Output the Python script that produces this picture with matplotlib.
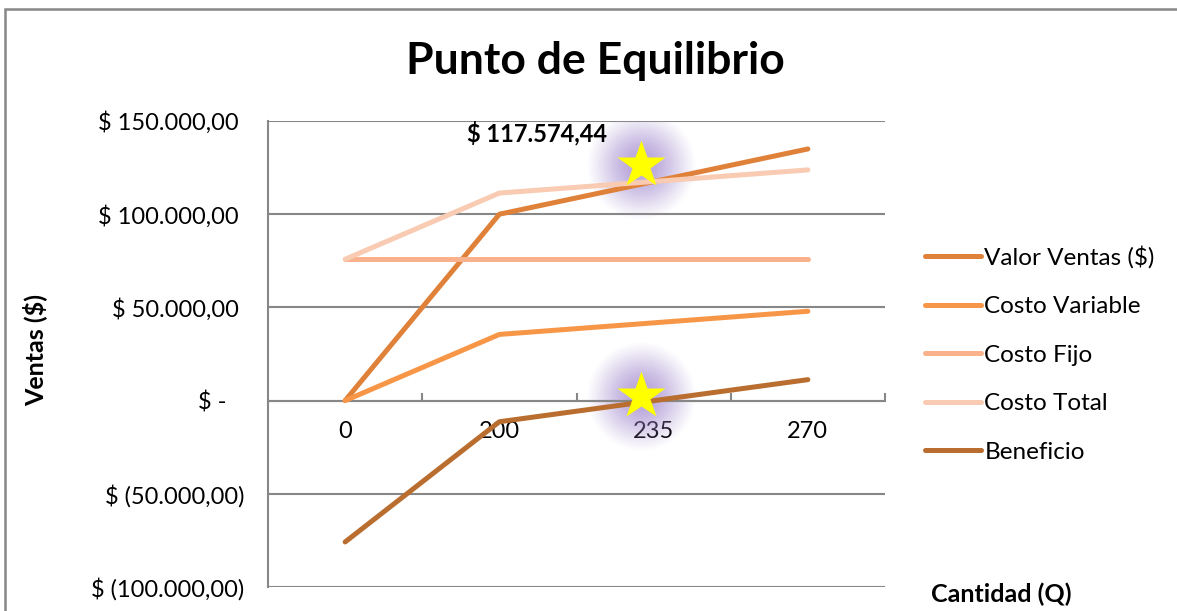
import numpy as np
import matplotlib
matplotlib.use("Agg")
import matplotlib.pyplot as plt
from matplotlib.patches import Rectangle
from matplotlib.ticker import FixedLocator

plt.rcParams["font.family"] = ["Lato", "DejaVu Sans"]

# data
cantidades = ["0", "200", "235", "270"]
valor_ventas = [0, 100000, 117500, 135000]
costo_variable = [0, 35500, 41712.5, 47925]
costo_fijo = [75836, 75836, 75836, 75836]
costo_total = [75836, 111336, 117548.5, 123761]
beneficio = [-75836, -11336, -48.5, 11239]
punto_equilibrio = 117574.44

series = [
    ("Valor Ventas ($)", valor_ventas, "#E0813A"),
    ("Costo Variable", costo_variable, "#F79646"),
    ("Costo Fijo", costo_fijo, "#F9B28C"),
    ("Costo Total", costo_total, "#F8CBB2"),
    ("Beneficio", beneficio, "#B96E30"),
]

y_ticks = [-100000, -50000, 0, 50000, 100000, 150000]
y_labels = ["$ (100.000,00)", "$ (50.000,00)", "$ -   ", "$ 50.000,00 ", "$ 100.000,00 ", "$ 150.000,00 "]

grey = "#878787"

fig = plt.figure(figsize=(11.77, 6.11), dpi=100)
ax = fig.add_axes([268 / 1177, 1 - 587 / 611, 617 / 1177, 466 / 611])

x = np.arange(len(cantidades))
for name, vals, color in series:
    ax.plot(x, vals, color=color, lw=3.6, solid_capstyle="round",
            solid_joinstyle="round", label=name, zorder=3)

# stars with purple glow (break-even marks)
star_x = x[2] - 0.085
for sy in [punto_equilibrio + 8800, 2700]:
    for s, a in zip(np.linspace(108, 30, 18), np.linspace(0.03, 0.09, 18)):
        ax.plot(star_x, sy, "o", ms=s * 0.72, color="#A58AD2", alpha=a,
                mec="none", zorder=2)
    ax.plot(star_x, sy, "*", ms=36, color="#FFFF00", mec="none", zorder=5)

ax.text(1.245, 143500, "$ 117.574,44", ha="center", va="center",
        fontsize=17, fontweight="bold")

ax.set_xlim(-0.5, 3.5)
ax.set_ylim(-100000, 150000)
ax.set_yticks(y_ticks)
ax.set_yticklabels(y_labels)
ax.set_xticks(x)
ax.set_xticklabels(cantidades)
ax.xaxis.set_minor_locator(FixedLocator([0.5, 1.5, 2.5, 3.5]))

for s in ["top", "right"]:
    ax.spines[s].set_visible(False)
ax.spines["left"].set_color(grey)
ax.spines["left"].set_linewidth(1.5)
ax.spines["bottom"].set_position(("data", 0))
ax.spines["bottom"].set_color(grey)
ax.spines["bottom"].set_linewidth(1.5)
ax.tick_params(axis="y", length=0, pad=17, labelsize=17)
ax.tick_params(axis="x", which="major", length=0, pad=15, labelsize=17)
ax.tick_params(axis="x", which="minor", direction="in", length=6,
               width=1.5, color=grey)
ax.grid(axis="y", color=grey, lw=1.5)
ax.set_axisbelow(True)

fig.text(595 / 1177, 1 - 61 / 611, "Punto de Equilibrio", ha="center",
         va="center", fontsize=32, fontweight="bold")
fig.text(35 / 1177, 1 - 350 / 611, "Ventas ($)", ha="center", va="center",
         rotation=90, fontsize=18, fontweight="bold")
fig.text(1001 / 1177, 1 - 594 / 611, "Cantidad (Q)", ha="center",
         va="center", fontsize=18, fontweight="bold")

fig.legend(loc="upper left", bbox_to_anchor=(915 / 1177, 1 - 236 / 611),
           frameon=False, fontsize=17.5, handlelength=2.3, handletextpad=0.15,
           labelspacing=1.13, borderaxespad=0)

# outer chart frame (cut at the right and bottom)
fig.add_artist(Rectangle((5 / 1177, -0.2), 1.2, 1 - 9 / 611 + 0.2,
                         transform=fig.transFigure, fill=False,
                         ec=grey, lw=1.8))

fig.savefig("out.png", dpi=100)
